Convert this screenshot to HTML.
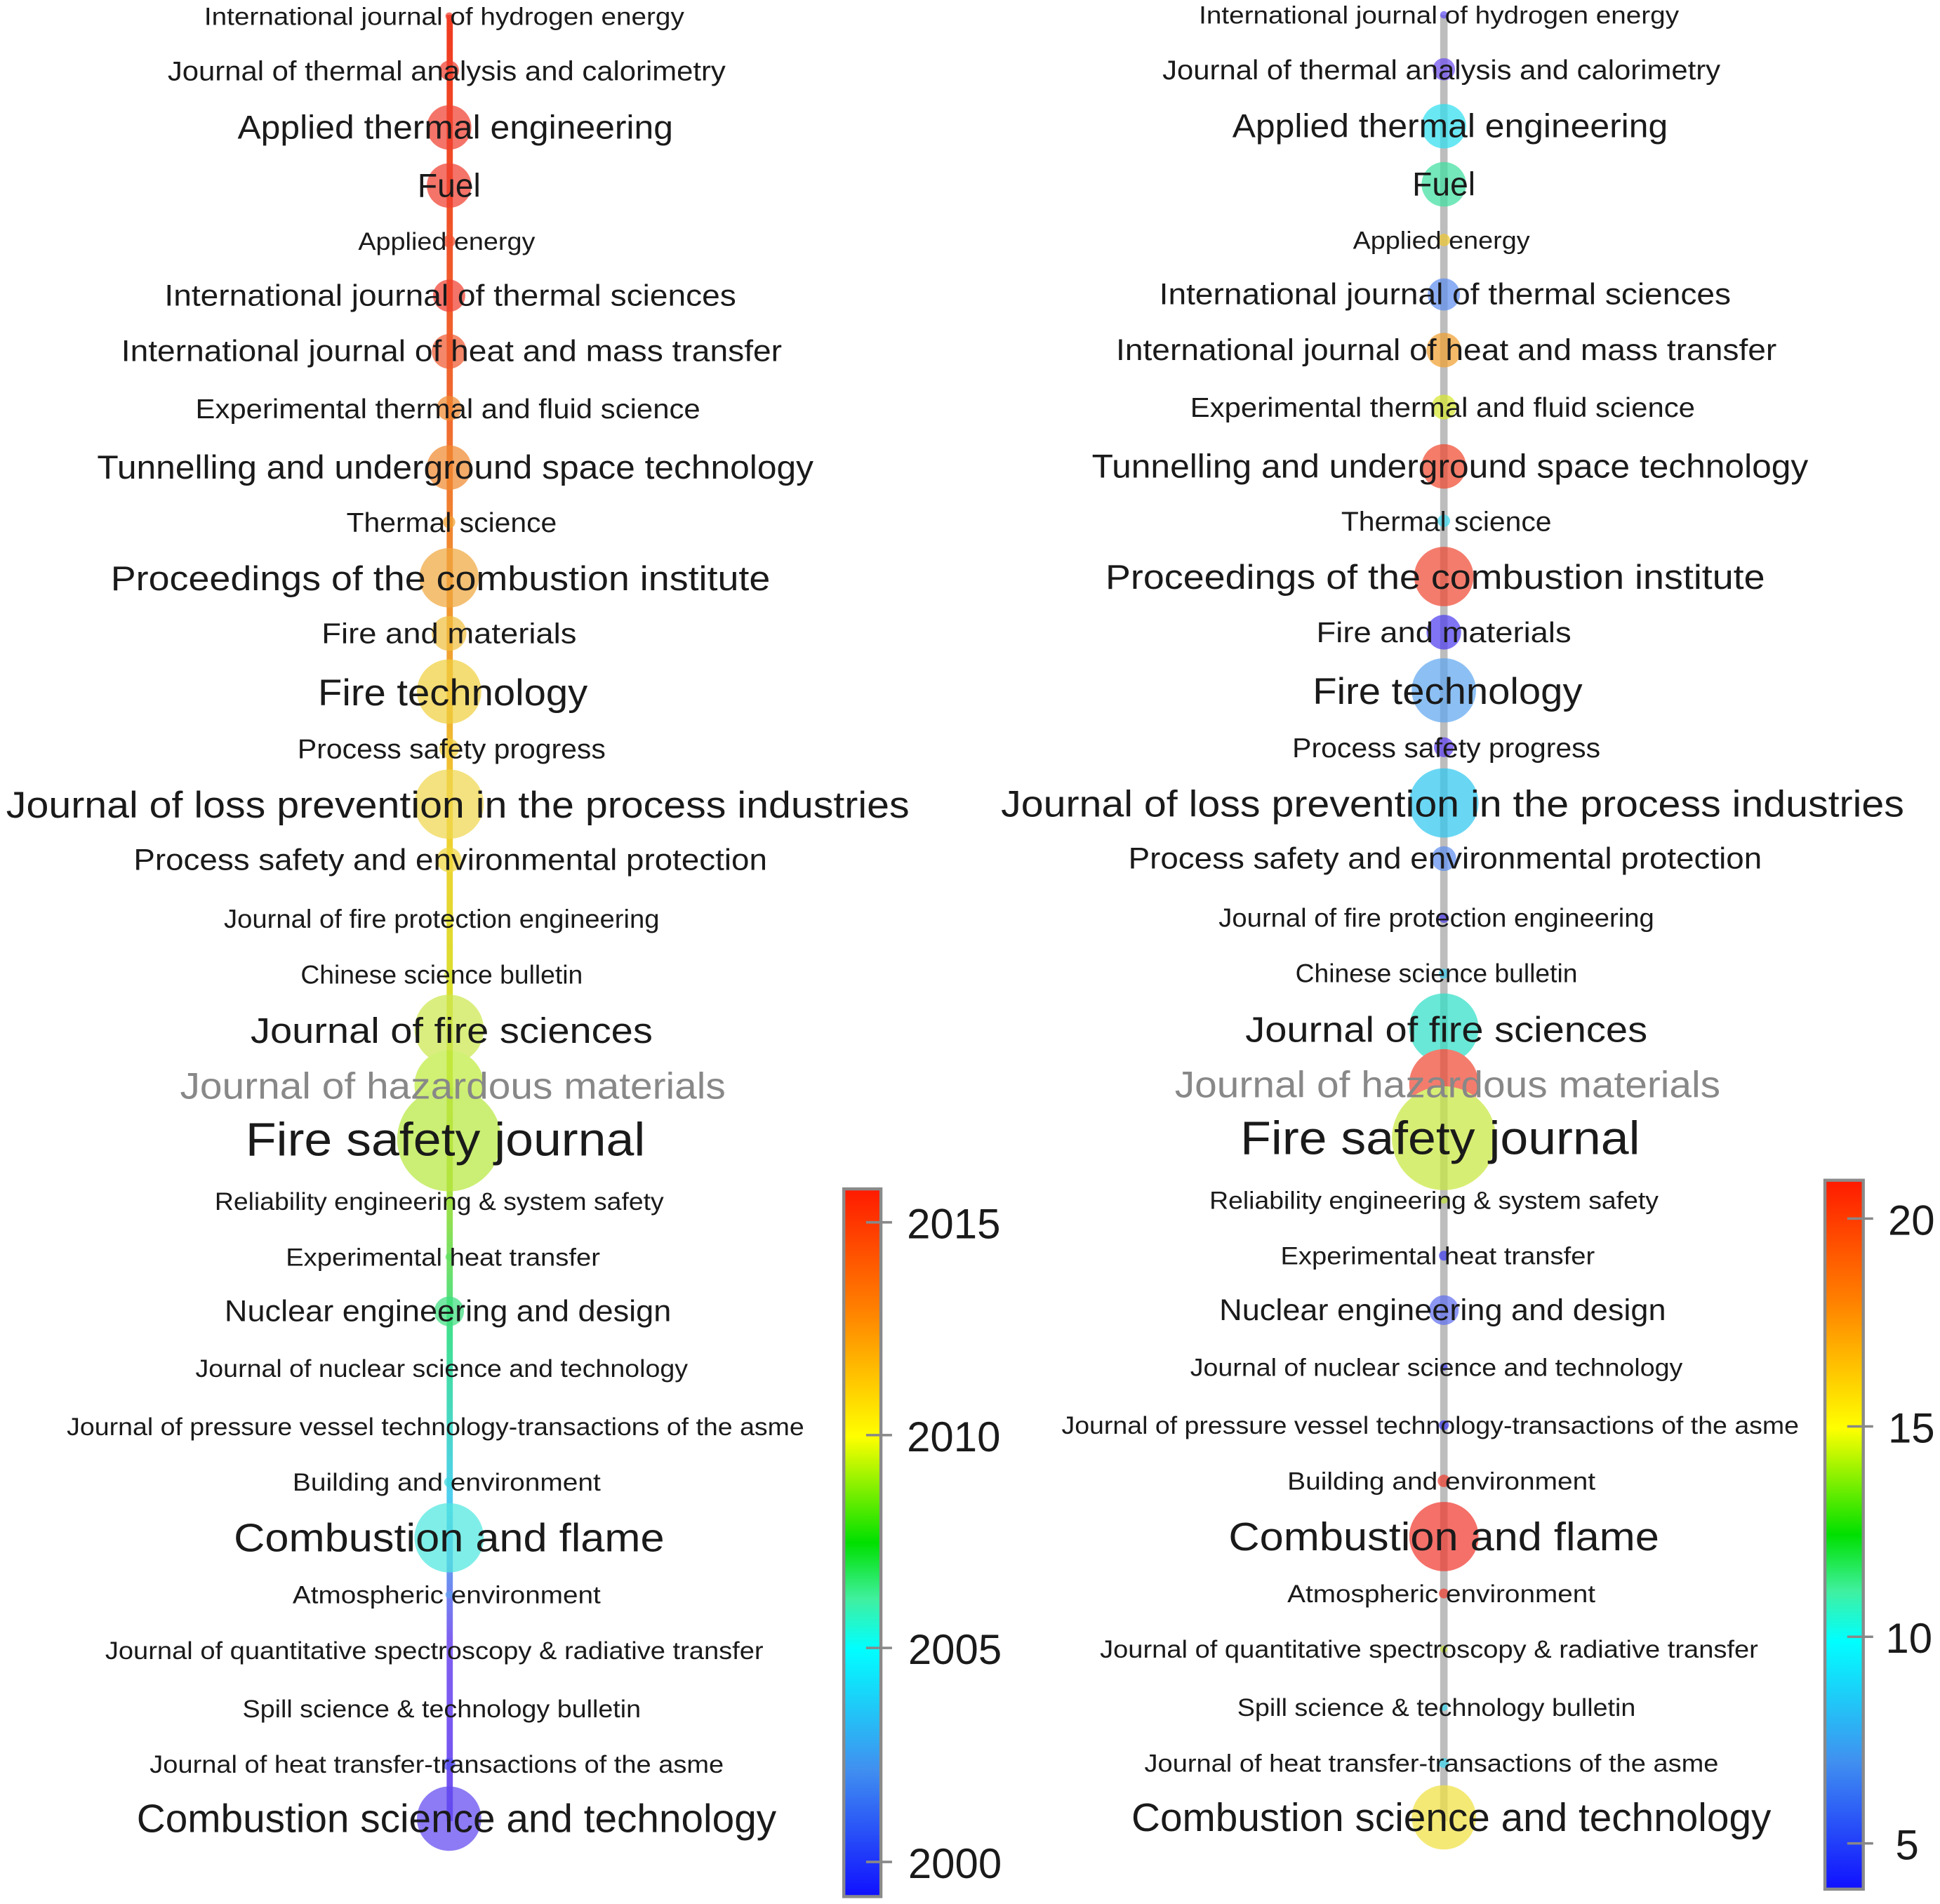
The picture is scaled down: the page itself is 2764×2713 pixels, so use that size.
<!DOCTYPE html>
<html><head><meta charset="utf-8"><style>
html,body{margin:0;padding:0;background:#fff;}
svg{display:block;}
text{font-family:"Liberation Sans",sans-serif;fill:#1a1a1a;}
</style></head><body>
<svg width="2764" height="2713" viewBox="0 0 1568 1539" preserveAspectRatio="none" xmlns="http://www.w3.org/2000/svg">
<defs>
<linearGradient id="lline" x1="0" y1="0" x2="0" y2="1">
<stop offset="0" stop-color="#f03a20"/><stop offset="0.22" stop-color="#f06a30"/><stop offset="0.35" stop-color="#f0a030"/>
<stop offset="0.45" stop-color="#f0d030"/><stop offset="0.55" stop-color="#d8e030"/><stop offset="0.65" stop-color="#a8e040"/>
<stop offset="0.73" stop-color="#40e090"/><stop offset="0.82" stop-color="#50d0f0"/><stop offset="0.9" stop-color="#8060f0"/><stop offset="1" stop-color="#7050f0"/></linearGradient>
<linearGradient id="cbar" x1="0" y1="0" x2="0" y2="1">
<stop offset="0" stop-color="#ff1a00"/><stop offset="0.17" stop-color="#ff8000"/><stop offset="0.35" stop-color="#ffff00"/>
<stop offset="0.5" stop-color="#00e000"/><stop offset="0.58" stop-color="#40f0a0"/>
<stop offset="0.65" stop-color="#00ffff"/><stop offset="0.82" stop-color="#4090f0"/><stop offset="1" stop-color="#1010ff"/></linearGradient>
</defs>
<rect x="361" y="12" width="5" height="1460" fill="url(#lline)"/>
<rect x="1164" y="12" width="6" height="1460" fill="#bdbdbd"/>
<g opacity="0.72">
<circle cx="363" cy="13" r="3" fill="#f04030"/>
<circle cx="363" cy="57" r="8" fill="#f04030"/>
<circle cx="363" cy="103" r="18" fill="#f04030"/>
<circle cx="363" cy="150" r="18" fill="#f04030"/>
<circle cx="363" cy="195" r="5" fill="#f05030"/>
<circle cx="363" cy="239" r="13" fill="#f04030"/>
<circle cx="363" cy="284" r="14" fill="#f05a30"/>
<circle cx="363" cy="330" r="10" fill="#f08a30"/>
<circle cx="363" cy="378" r="18" fill="#f08a30"/>
<circle cx="363" cy="422" r="5" fill="#f0a030"/>
<circle cx="363" cy="467" r="24" fill="#f0a840"/>
<circle cx="363" cy="512" r="14" fill="#f0c040"/>
<circle cx="363" cy="559" r="26" fill="#f0d040"/>
<circle cx="363" cy="605" r="8" fill="#f0d040"/>
<circle cx="363" cy="650" r="28" fill="#f0d850"/>
<circle cx="363" cy="695" r="10" fill="#f0d840"/>
<circle cx="363" cy="743" r="4" fill="#e8e840"/>
<circle cx="363" cy="788" r="4" fill="#d8e840"/>
<circle cx="363" cy="832" r="28" fill="#cce850"/>
<circle cx="363" cy="877" r="28" fill="#c0ec40"/>
<circle cx="363" cy="921" r="42" fill="#b8e840"/>
<circle cx="363" cy="971" r="4" fill="#a0e040"/>
<circle cx="363" cy="1016" r="3" fill="#60e060"/>
<circle cx="363" cy="1060" r="12" fill="#40e080"/>
<circle cx="363" cy="1106" r="3" fill="#40e0b0"/>
<circle cx="363" cy="1198" r="4" fill="#40d8e0"/>
<circle cx="363" cy="1243" r="28" fill="#50e8e0"/>
<circle cx="363" cy="1289" r="3" fill="#60a0f0"/>
<circle cx="363" cy="1426" r="5" fill="#5050f0"/>
<circle cx="363" cy="1470" r="26" fill="#6048f0"/>
<circle cx="1167" cy="12" r="3" fill="#6050f0"/>
<circle cx="1167" cy="56" r="9" fill="#7050f0"/>
<circle cx="1167" cy="102" r="18" fill="#30e0f0"/>
<circle cx="1167" cy="149" r="18" fill="#40e0a0"/>
<circle cx="1167" cy="194" r="5" fill="#f0c830"/>
<circle cx="1167" cy="238" r="13" fill="#6090f0"/>
<circle cx="1167" cy="283" r="14" fill="#f0a030"/>
<circle cx="1167" cy="329" r="10" fill="#d8e830"/>
<circle cx="1167" cy="377" r="18" fill="#f04a30"/>
<circle cx="1167" cy="421" r="5" fill="#40d8f0"/>
<circle cx="1167" cy="466" r="24" fill="#f04a35"/>
<circle cx="1167" cy="511" r="14" fill="#5040f0"/>
<circle cx="1167" cy="558" r="26" fill="#60a8f0"/>
<circle cx="1167" cy="604" r="8" fill="#6040f0"/>
<circle cx="1167" cy="649" r="28" fill="#30c8f0"/>
<circle cx="1167" cy="694" r="10" fill="#6090f0"/>
<circle cx="1167" cy="742" r="4" fill="#5040f0"/>
<circle cx="1167" cy="787" r="4" fill="#40d0f0"/>
<circle cx="1167" cy="831" r="28" fill="#30e0c8"/>
<circle cx="1167" cy="876" r="28" fill="#f04a35"/>
<circle cx="1167" cy="920" r="42" fill="#c8e840"/>
<circle cx="1167" cy="970" r="3" fill="#c0e040"/>
<circle cx="1167" cy="1015" r="4" fill="#4040f0"/>
<circle cx="1167" cy="1059" r="12" fill="#6070f0"/>
<circle cx="1167" cy="1105" r="3" fill="#4040f0"/>
<circle cx="1167" cy="1152" r="4" fill="#4040f0"/>
<circle cx="1167" cy="1197" r="5" fill="#f04030"/>
<circle cx="1167" cy="1242" r="28" fill="#f03a30"/>
<circle cx="1167" cy="1288" r="4" fill="#f04030"/>
<circle cx="1167" cy="1333" r="3" fill="#c0e040"/>
<circle cx="1167" cy="1380" r="3" fill="#40d8f0"/>
<circle cx="1167" cy="1425" r="4" fill="#40d8f0"/>
<circle cx="1167" cy="1469" r="26" fill="#f0e040"/>
</g>
<g text-anchor="middle">
<text x="359" y="20" font-size="20" textLength="388" lengthAdjust="spacingAndGlyphs">International journal of hydrogen energy</text>
<text x="361" y="65" font-size="22" textLength="451" lengthAdjust="spacingAndGlyphs">Journal of thermal analysis and calorimetry</text>
<text x="368" y="112" font-size="27" textLength="352" lengthAdjust="spacingAndGlyphs">Applied thermal engineering</text>
<text x="363" y="159" font-size="27" textLength="51" lengthAdjust="spacingAndGlyphs">Fuel</text>
<text x="361" y="202" font-size="20" textLength="143" lengthAdjust="spacingAndGlyphs">Applied energy</text>
<text x="364" y="247" font-size="24" textLength="462" lengthAdjust="spacingAndGlyphs">International journal of thermal sciences</text>
<text x="365" y="292" font-size="24" textLength="534" lengthAdjust="spacingAndGlyphs">International journal of heat and mass transfer</text>
<text x="362" y="338" font-size="22" textLength="408" lengthAdjust="spacingAndGlyphs">Experimental thermal and fluid science</text>
<text x="368" y="387" font-size="27" textLength="579" lengthAdjust="spacingAndGlyphs">Tunnelling and underground space technology</text>
<text x="365" y="430" font-size="22" textLength="170" lengthAdjust="spacingAndGlyphs">Thermal science</text>
<text x="356" y="477" font-size="28" textLength="533" lengthAdjust="spacingAndGlyphs">Proceedings of the combustion institute</text>
<text x="363" y="520" font-size="23" textLength="206" lengthAdjust="spacingAndGlyphs">Fire and materials</text>
<text x="366" y="570" font-size="30" textLength="218" lengthAdjust="spacingAndGlyphs">Fire technology</text>
<text x="365" y="613" font-size="22" textLength="249" lengthAdjust="spacingAndGlyphs">Process safety progress</text>
<text x="370" y="661" font-size="30" textLength="730" lengthAdjust="spacingAndGlyphs">Journal of loss prevention in the process industries</text>
<text x="364" y="703" font-size="24" textLength="512" lengthAdjust="spacingAndGlyphs">Process safety and environmental protection</text>
<text x="357" y="750" font-size="21" textLength="352" lengthAdjust="spacingAndGlyphs">Journal of fire protection engineering</text>
<text x="357" y="795" font-size="21" textLength="228" lengthAdjust="spacingAndGlyphs">Chinese science bulletin</text>
<text x="365" y="843" font-size="29" textLength="325" lengthAdjust="spacingAndGlyphs">Journal of fire sciences</text>
<text x="366" y="888" font-size="30" textLength="441" lengthAdjust="spacingAndGlyphs" style="fill:#888">Journal of hazardous materials</text>
<text x="360" y="934" font-size="38" textLength="323" lengthAdjust="spacingAndGlyphs">Fire safety journal</text>
<text x="355" y="978" font-size="20" textLength="363" lengthAdjust="spacingAndGlyphs">Reliability engineering &amp; system safety</text>
<text x="358" y="1023" font-size="20" textLength="254" lengthAdjust="spacingAndGlyphs">Experimental heat transfer</text>
<text x="362" y="1068" font-size="24" textLength="361" lengthAdjust="spacingAndGlyphs">Nuclear engineering and design</text>
<text x="357" y="1113" font-size="20" textLength="398" lengthAdjust="spacingAndGlyphs">Journal of nuclear science and technology</text>
<text x="352" y="1160" font-size="20" textLength="596" lengthAdjust="spacingAndGlyphs">Journal of pressure vessel technology-transactions of the asme</text>
<text x="361" y="1205" font-size="20" textLength="249" lengthAdjust="spacingAndGlyphs">Building and environment</text>
<text x="363" y="1254" font-size="32" textLength="348" lengthAdjust="spacingAndGlyphs">Combustion and flame</text>
<text x="361" y="1296" font-size="20" textLength="249" lengthAdjust="spacingAndGlyphs">Atmospheric environment</text>
<text x="351" y="1341" font-size="20" textLength="532" lengthAdjust="spacingAndGlyphs">Journal of quantitative spectroscopy &amp; radiative transfer</text>
<text x="357" y="1388" font-size="20" textLength="322" lengthAdjust="spacingAndGlyphs">Spill science &amp; technology bulletin</text>
<text x="353" y="1433" font-size="20" textLength="464" lengthAdjust="spacingAndGlyphs">Journal of heat transfer-transactions of the asme</text>
<text x="369" y="1481" font-size="32" textLength="517" lengthAdjust="spacingAndGlyphs">Combustion science and technology</text>
</g>
<g text-anchor="middle" transform="translate(804,-1)">
<text x="359" y="20" font-size="20" textLength="388" lengthAdjust="spacingAndGlyphs">International journal of hydrogen energy</text>
<text x="361" y="65" font-size="22" textLength="451" lengthAdjust="spacingAndGlyphs">Journal of thermal analysis and calorimetry</text>
<text x="368" y="112" font-size="27" textLength="352" lengthAdjust="spacingAndGlyphs">Applied thermal engineering</text>
<text x="363" y="159" font-size="27" textLength="51" lengthAdjust="spacingAndGlyphs">Fuel</text>
<text x="361" y="202" font-size="20" textLength="143" lengthAdjust="spacingAndGlyphs">Applied energy</text>
<text x="364" y="247" font-size="24" textLength="462" lengthAdjust="spacingAndGlyphs">International journal of thermal sciences</text>
<text x="365" y="292" font-size="24" textLength="534" lengthAdjust="spacingAndGlyphs">International journal of heat and mass transfer</text>
<text x="362" y="338" font-size="22" textLength="408" lengthAdjust="spacingAndGlyphs">Experimental thermal and fluid science</text>
<text x="368" y="387" font-size="27" textLength="579" lengthAdjust="spacingAndGlyphs">Tunnelling and underground space technology</text>
<text x="365" y="430" font-size="22" textLength="170" lengthAdjust="spacingAndGlyphs">Thermal science</text>
<text x="356" y="477" font-size="28" textLength="533" lengthAdjust="spacingAndGlyphs">Proceedings of the combustion institute</text>
<text x="363" y="520" font-size="23" textLength="206" lengthAdjust="spacingAndGlyphs">Fire and materials</text>
<text x="366" y="570" font-size="30" textLength="218" lengthAdjust="spacingAndGlyphs">Fire technology</text>
<text x="365" y="613" font-size="22" textLength="249" lengthAdjust="spacingAndGlyphs">Process safety progress</text>
<text x="370" y="661" font-size="30" textLength="730" lengthAdjust="spacingAndGlyphs">Journal of loss prevention in the process industries</text>
<text x="364" y="703" font-size="24" textLength="512" lengthAdjust="spacingAndGlyphs">Process safety and environmental protection</text>
<text x="357" y="750" font-size="21" textLength="352" lengthAdjust="spacingAndGlyphs">Journal of fire protection engineering</text>
<text x="357" y="795" font-size="21" textLength="228" lengthAdjust="spacingAndGlyphs">Chinese science bulletin</text>
<text x="365" y="843" font-size="29" textLength="325" lengthAdjust="spacingAndGlyphs">Journal of fire sciences</text>
<text x="366" y="888" font-size="30" textLength="441" lengthAdjust="spacingAndGlyphs" style="fill:#888">Journal of hazardous materials</text>
<text x="360" y="934" font-size="38" textLength="323" lengthAdjust="spacingAndGlyphs">Fire safety journal</text>
<text x="355" y="978" font-size="20" textLength="363" lengthAdjust="spacingAndGlyphs">Reliability engineering &amp; system safety</text>
<text x="358" y="1023" font-size="20" textLength="254" lengthAdjust="spacingAndGlyphs">Experimental heat transfer</text>
<text x="362" y="1068" font-size="24" textLength="361" lengthAdjust="spacingAndGlyphs">Nuclear engineering and design</text>
<text x="357" y="1113" font-size="20" textLength="398" lengthAdjust="spacingAndGlyphs">Journal of nuclear science and technology</text>
<text x="352" y="1160" font-size="20" textLength="596" lengthAdjust="spacingAndGlyphs">Journal of pressure vessel technology-transactions of the asme</text>
<text x="361" y="1205" font-size="20" textLength="249" lengthAdjust="spacingAndGlyphs">Building and environment</text>
<text x="363" y="1254" font-size="32" textLength="348" lengthAdjust="spacingAndGlyphs">Combustion and flame</text>
<text x="361" y="1296" font-size="20" textLength="249" lengthAdjust="spacingAndGlyphs">Atmospheric environment</text>
<text x="351" y="1341" font-size="20" textLength="532" lengthAdjust="spacingAndGlyphs">Journal of quantitative spectroscopy &amp; radiative transfer</text>
<text x="357" y="1388" font-size="20" textLength="322" lengthAdjust="spacingAndGlyphs">Spill science &amp; technology bulletin</text>
<text x="353" y="1433" font-size="20" textLength="464" lengthAdjust="spacingAndGlyphs">Journal of heat transfer-transactions of the asme</text>
<text x="369" y="1481" font-size="32" textLength="517" lengthAdjust="spacingAndGlyphs">Combustion science and technology</text>
</g>
<rect x="682" y="961" width="30" height="572" fill="url(#cbar)" stroke="#8a8a8a" stroke-width="2.5"/>
<g stroke="#888" stroke-width="2"><line x1="700" y1="988" x2="721" y2="988"/><line x1="700" y1="1160" x2="721" y2="1160"/><line x1="700" y1="1332" x2="721" y2="1332"/><line x1="700" y1="1505" x2="721" y2="1505"/></g>
<g font-size="34"><text x="733" y="1001">2015</text><text x="733" y="1173">2010</text><text x="734" y="1345">2005</text><text x="734" y="1518">2000</text></g>
<rect x="1475" y="954" width="31" height="573" fill="url(#cbar)" stroke="#8a8a8a" stroke-width="2.5"/>
<g stroke="#888" stroke-width="2"><line x1="1493" y1="985" x2="1514" y2="985"/><line x1="1493" y1="1153" x2="1514" y2="1153"/><line x1="1493" y1="1323" x2="1514" y2="1323"/><line x1="1493" y1="1490" x2="1514" y2="1490"/></g>
<g font-size="34"><text x="1526" y="998">20</text><text x="1526" y="1166">15</text><text x="1524" y="1336">10</text><text x="1532" y="1503">5</text></g>
</svg>
</body></html>
